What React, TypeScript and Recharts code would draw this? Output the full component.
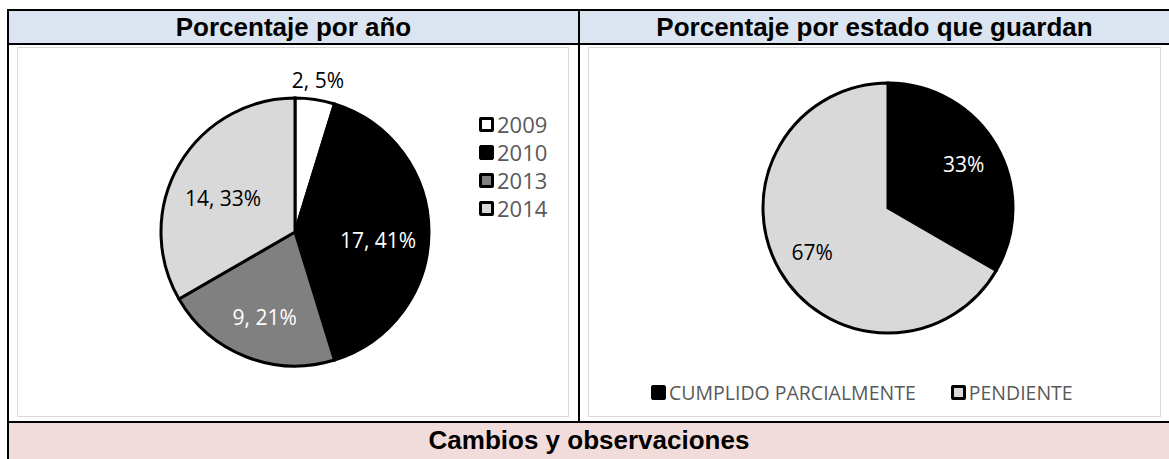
import { PieChart, Pie, Cell, Legend } from "recharts";

const yearNames = ["2009", "2010", "2013", "2014"];
const yearCounts = [2, 17, 9, 14];
const yearPercents = ["5%", "41%", "21%", "33%"];
const yearColors = ["#ffffff", "#000000", "#808080", "#d9d9d9"];

const stateNames = ["CUMPLIDO PARCIALMENTE", "PENDIENTE"];
const stateCounts = [14, 28];
const statePercents = ["33%", "67%"];
const stateColors = ["#000000", "#d9d9d9"];

const yearData = yearNames.map((name, i) => ({ name, value: yearCounts[i] }));
const stateData = stateNames.map((name, i) => ({ name, value: stateCounts[i] }));

const RAD = Math.PI / 180;
const labelFont = "'Open Sans', sans-serif";

function yearLabel(props: any) {
  const { cx, cy, midAngle, outerRadius, index } = props;
  const outside = index === 0;
  const r = outside ? outerRadius + 20 : outerRadius * 0.62;
  const x = cx + r * Math.cos(-midAngle * RAD);
  const y = cy + r * Math.sin(-midAngle * RAD) + (outside ? 0 : 8);
  const dark = yearColors[index] === "#000000" || yearColors[index] === "#808080";
  return (
    <text x={x} y={y} textAnchor="middle" dominantBaseline="central" fontSize={21}
      fontFamily={labelFont} fill={dark ? "#ffffff" : "#000000"}>
      {`${yearCounts[index]}, ${yearPercents[index]}`}
    </text>
  );
}

function stateLabel(props: any) {
  const { cx, cy, midAngle, outerRadius, index } = props;
  const r = outerRadius * 0.7;
  const x = cx + r * Math.cos(-midAngle * RAD);
  const y = cy + r * Math.sin(-midAngle * RAD);
  return (
    <text x={x} y={y} textAnchor="middle" dominantBaseline="central" fontSize={21}
      fontFamily={labelFont} fill={index === 0 ? "#ffffff" : "#000000"}>
      {statePercents[index]}
    </text>
  );
}

function Swatch({ color }: { color: string }) {
  const light = color !== "#000000";
  return (
    <span style={{ display: "inline-block", width: 15, height: 15, boxSizing: "border-box",
      background: color, border: light ? "3px solid #000" : "1px solid #000", borderRadius: 2,
      marginRight: 3 }} />
  );
}

function YearLegend() {
  return (
    <div style={{ fontFamily: labelFont, fontSize: 22, color: "#595959" }}>
      {yearNames.map((n, i) => (
        <div key={n} style={{ display: "flex", alignItems: "center", height: 28 }}>
          <Swatch color={yearColors[i]} />{n}
        </div>
      ))}
    </div>
  );
}

function StateLegend() {
  return (
    <div style={{ fontFamily: labelFont, fontSize: 19.5, color: "#595959", display: "flex" }}>
      {stateNames.map((n, i) => (
        <div key={n} style={{ display: "flex", alignItems: "center", marginRight: 35 }}>
          <Swatch color={stateColors[i]} />{n}
        </div>
      ))}
    </div>
  );
}

const line = (s: React.CSSProperties) => <div style={{ position: "absolute", background: "#000", ...s }} />;

const headStyle: React.CSSProperties = {
  position: "absolute", height: 32, display: "flex", alignItems: "center",
  justifyContent: "center", fontWeight: "bold", fontSize: 26,
};

export default function App() {
  return (
    <div style={{ position: "fixed", left: 0, top: 0, width: 1169, height: 459, background: "#fff",
      overflow: "hidden", fontFamily: "'Liberation Sans', Arial, sans-serif" }}>
      {/* header row */}
      <div style={{ position: "absolute", left: 9, top: 11, width: 1160, height: 32, background: "#dbe5f1" }} />
      <div style={{ ...headStyle, left: 9, top: 11, width: 569 }}>Porcentaje por año</div>
      <div style={{ ...headStyle, left: 580, top: 11, width: 589 }}>Porcentaje por estado que guardan</div>

      {/* bottom row */}
      <div style={{ position: "absolute", left: 9, top: 423, width: 1160, height: 36, background: "#f2dcdb" }} />
      <div style={{ ...headStyle, left: 9, top: 424, width: 1160 }}>Cambios y observaciones</div>

      {/* table lines */}
      {line({ left: 7, top: 9, width: 1162, height: 2 })}
      {line({ left: 7, top: 9, width: 2, height: 450 })}
      {line({ left: 7, top: 43, width: 1162, height: 2 })}
      {line({ left: 7, top: 421, width: 1162, height: 2 })}
      {line({ left: 578, top: 9, width: 2, height: 414 })}

      {/* left chart panel */}
      <div style={{ position: "absolute", left: 17, top: 47, width: 552, height: 370,
        border: "1px solid #d9d9d9", boxSizing: "border-box" }}>
        <PieChart width={550} height={368}>
          <Pie data={yearData} dataKey="value" nameKey="name" cx={272} cy={179} outerRadius={134}
            startAngle={90} endAngle={-270} stroke="#000" strokeWidth={3}
            label={yearLabel} labelLine={false} isAnimationActive={false}>
            {yearData.map((d, i) => <Cell key={d.name} fill={yearColors[i]} />)}
          </Pie>
          <Legend content={<YearLegend />} layout="vertical"
            wrapperStyle={{ left: 461, top: 62, width: 90 }} />
        </PieChart>
      </div>

      {/* right chart panel */}
      <div style={{ position: "absolute", left: 588, top: 47, width: 573, height: 370,
        border: "1px solid #d9d9d9", boxSizing: "border-box" }}>
        <PieChart width={571} height={368}>
          <Pie data={stateData} dataKey="value" nameKey="name" cx={294} cy={155} outerRadius={125}
            startAngle={90} endAngle={-270} stroke="#000" strokeWidth={3}
            label={stateLabel} labelLine={false} isAnimationActive={false}>
            {stateData.map((d, i) => <Cell key={d.name} fill={stateColors[i]} />)}
          </Pie>
          <Legend content={<StateLegend />}
            wrapperStyle={{ left: 62, top: 331, width: 500 }} />
        </PieChart>
      </div>
    </div>
  );
}
